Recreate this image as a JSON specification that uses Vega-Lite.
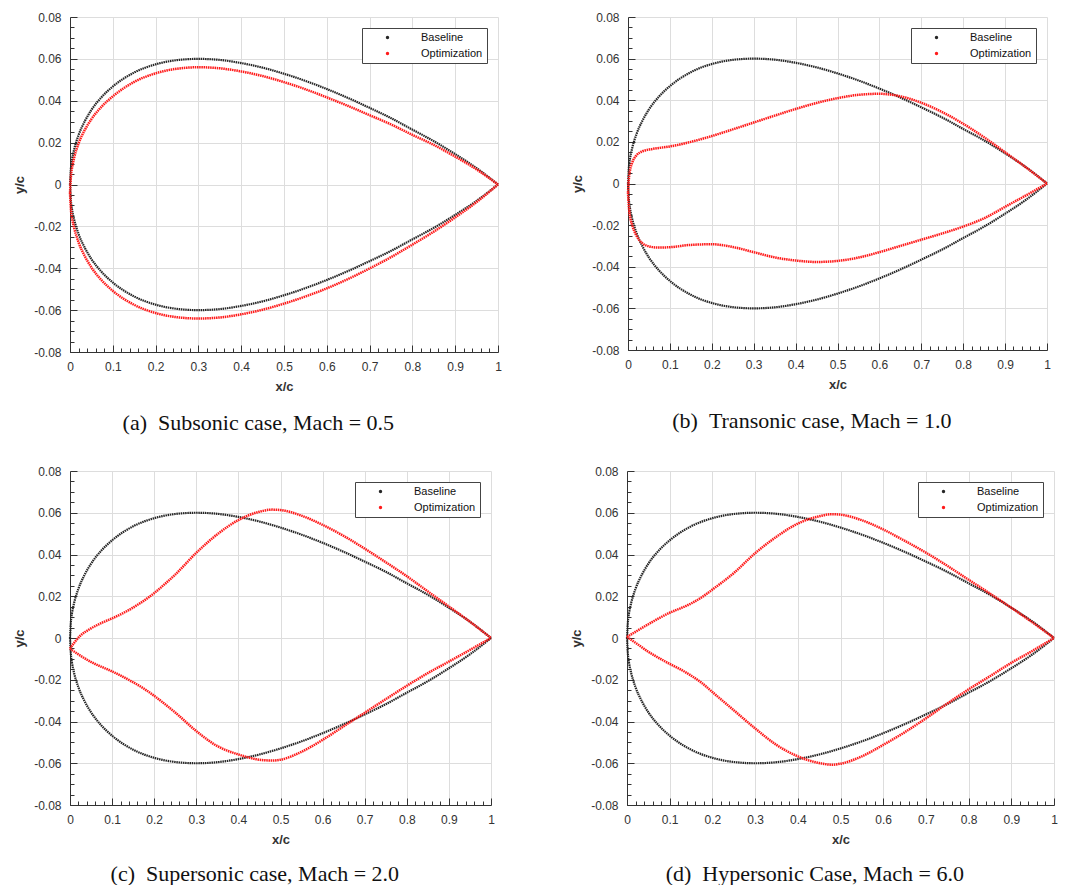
{
"$schema": "https://vega.github.io/schema/vega-lite/v6.json",
"padding": {"left": 13, "top": 11, "right": 5, "bottom": 0},
"background": "white",
"config": {
  "view": {"stroke": null},
  "axis": {"domainColor": "#333333", "domainWidth": 1, "tickColor": "#333333", "tickWidth": 1, "gridColor": "#dddddd", "gridWidth": 1,
    "labelFont": "Liberation Sans", "labelFontSize": 12, "labelColor": "#333333",
    "titleFont": "Liberation Sans", "titleFontSize": 13, "titleFontWeight": "bold", "titleColor": "#333333"},
  "legend": {"orient": "top-right", "offset": 11, "strokeColor": "#444444", "fillColor": "white", "padding": 4, "rowPadding": 4,
    "labelFont": "Liberation Sans", "labelFontSize": 11, "labelColor": "#111111", "symbolType": "circle", "symbolSize": 3,
    "symbolStrokeWidth": 1.6, "cornerRadius": 0},
  "title": {"orient": "bottom", "font": "Liberation Serif", "fontSize": 22, "fontWeight": "normal", "color": "#111111", "offset": 20, "frame": "bounds", "anchor": "middle"}
},
"datasets": {
"base": [
{"s":"u","x":0,"y":0},{"s":"u","x":0.0025,"y":0.0087},{"s":"u","x":0.005,"y":0.0122},{"s":"u","x":0.01,"y":0.017},{"s":"u","x":0.02,"y":0.0236},{"s":"u","x":0.035,"y":0.0304},{"s":"u","x":0.05,"y":0.0356},{"s":"u","x":0.075,"y":0.042},{"s":"u","x":0.1,"y":0.0468},{"s":"u","x":0.15,"y":0.0535},{"s":"u","x":0.2,"y":0.0574},{"s":"u","x":0.25,"y":0.0594},{"s":"u","x":0.3,"y":0.06},{"s":"u","x":0.35,"y":0.0595},{"s":"u","x":0.4,"y":0.058},{"s":"u","x":0.45,"y":0.0558},{"s":"u","x":0.5,"y":0.0529},{"s":"u","x":0.55,"y":0.0495},{"s":"u","x":0.6,"y":0.0456},{"s":"u","x":0.65,"y":0.0413},{"s":"u","x":0.7,"y":0.0366},{"s":"u","x":0.75,"y":0.0317},{"s":"u","x":0.8,"y":0.0262},{"s":"u","x":0.85,"y":0.0207},{"s":"u","x":0.9,"y":0.0145},{"s":"u","x":0.95,"y":0.0078},{"s":"u","x":1,"y":0},
{"s":"l","x":0,"y":0},{"s":"l","x":0.0025,"y":-0.0087},{"s":"l","x":0.005,"y":-0.0122},{"s":"l","x":0.01,"y":-0.017},{"s":"l","x":0.02,"y":-0.0236},{"s":"l","x":0.035,"y":-0.0304},{"s":"l","x":0.05,"y":-0.0356},{"s":"l","x":0.075,"y":-0.042},{"s":"l","x":0.1,"y":-0.0468},{"s":"l","x":0.15,"y":-0.0535},{"s":"l","x":0.2,"y":-0.0574},{"s":"l","x":0.25,"y":-0.0594},{"s":"l","x":0.3,"y":-0.06},{"s":"l","x":0.35,"y":-0.0595},{"s":"l","x":0.4,"y":-0.058},{"s":"l","x":0.45,"y":-0.0558},{"s":"l","x":0.5,"y":-0.0529},{"s":"l","x":0.55,"y":-0.0495},{"s":"l","x":0.6,"y":-0.0456},{"s":"l","x":0.65,"y":-0.0413},{"s":"l","x":0.7,"y":-0.0366},{"s":"l","x":0.75,"y":-0.0317},{"s":"l","x":0.8,"y":-0.0262},{"s":"l","x":0.85,"y":-0.0207},{"s":"l","x":0.9,"y":-0.0145},{"s":"l","x":0.95,"y":-0.0078},{"s":"l","x":1,"y":0}
],
"optA": [
{"s":"u","x":0,"y":-0.004},{"s":"u","x":0.0025,"y":0.0047},{"s":"u","x":0.005,"y":0.0082},{"s":"u","x":0.01,"y":0.013},{"s":"u","x":0.02,"y":0.0196},{"s":"u","x":0.035,"y":0.0262},{"s":"u","x":0.05,"y":0.0312},{"s":"u","x":0.075,"y":0.0374},{"s":"u","x":0.1,"y":0.0421},{"s":"u","x":0.15,"y":0.049},{"s":"u","x":0.2,"y":0.0531},{"s":"u","x":0.25,"y":0.0553},{"s":"u","x":0.3,"y":0.056},{"s":"u","x":0.35,"y":0.0555},{"s":"u","x":0.4,"y":0.054},{"s":"u","x":0.45,"y":0.0518},{"s":"u","x":0.5,"y":0.0489},{"s":"u","x":0.55,"y":0.0455},{"s":"u","x":0.6,"y":0.0416},{"s":"u","x":0.65,"y":0.0375},{"s":"u","x":0.7,"y":0.0331},{"s":"u","x":0.75,"y":0.0287},{"s":"u","x":0.8,"y":0.0237},{"s":"u","x":0.85,"y":0.0189},{"s":"u","x":0.9,"y":0.0133},{"s":"u","x":0.95,"y":0.0072},{"s":"u","x":1,"y":0},
{"s":"l","x":0,"y":-0.004},{"s":"l","x":0.0025,"y":-0.0127},{"s":"l","x":0.005,"y":-0.0162},{"s":"l","x":0.01,"y":-0.021},{"s":"l","x":0.02,"y":-0.0276},{"s":"l","x":0.035,"y":-0.0344},{"s":"l","x":0.05,"y":-0.0396},{"s":"l","x":0.075,"y":-0.046},{"s":"l","x":0.1,"y":-0.0508},{"s":"l","x":0.15,"y":-0.0575},{"s":"l","x":0.2,"y":-0.0614},{"s":"l","x":0.25,"y":-0.0634},{"s":"l","x":0.3,"y":-0.064},{"s":"l","x":0.35,"y":-0.0635},{"s":"l","x":0.4,"y":-0.062},{"s":"l","x":0.45,"y":-0.0598},{"s":"l","x":0.5,"y":-0.0569},{"s":"l","x":0.55,"y":-0.0535},{"s":"l","x":0.6,"y":-0.0496},{"s":"l","x":0.65,"y":-0.0451},{"s":"l","x":0.7,"y":-0.0401},{"s":"l","x":0.75,"y":-0.0347},{"s":"l","x":0.8,"y":-0.0287},{"s":"l","x":0.85,"y":-0.0225},{"s":"l","x":0.9,"y":-0.0157},{"s":"l","x":0.95,"y":-0.0084},{"s":"l","x":1,"y":0}
],
"optB": [
{"s":"u","x":0,"y":-0.0044},{"s":"u","x":0.002,"y":0.002},{"s":"u","x":0.005,"y":0.0065},{"s":"u","x":0.01,"y":0.01},{"s":"u","x":0.02,"y":0.0135},{"s":"u","x":0.035,"y":0.0155},{"s":"u","x":0.05,"y":0.0163},{"s":"u","x":0.075,"y":0.0171},{"s":"u","x":0.1,"y":0.0178},{"s":"u","x":0.15,"y":0.02},{"s":"u","x":0.2,"y":0.0228},{"s":"u","x":0.25,"y":0.026},{"s":"u","x":0.3,"y":0.0293},{"s":"u","x":0.35,"y":0.0326},{"s":"u","x":0.4,"y":0.0358},{"s":"u","x":0.45,"y":0.0387},{"s":"u","x":0.5,"y":0.041},{"s":"u","x":0.55,"y":0.0426},{"s":"u","x":0.6,"y":0.0431},{"s":"u","x":0.65,"y":0.0419},{"s":"u","x":0.7,"y":0.0388},{"s":"u","x":0.75,"y":0.0343},{"s":"u","x":0.8,"y":0.0287},{"s":"u","x":0.85,"y":0.0222},{"s":"u","x":0.9,"y":0.015},{"s":"u","x":0.95,"y":0.0077},{"s":"u","x":1,"y":0},
{"s":"l","x":0,"y":-0.0044},{"s":"l","x":0.002,"y":-0.011},{"s":"l","x":0.005,"y":-0.016},{"s":"l","x":0.01,"y":-0.02},{"s":"l","x":0.02,"y":-0.025},{"s":"l","x":0.035,"y":-0.0288},{"s":"l","x":0.05,"y":-0.0302},{"s":"l","x":0.075,"y":-0.0308},{"s":"l","x":0.1,"y":-0.0306},{"s":"l","x":0.15,"y":-0.0295},{"s":"l","x":0.2,"y":-0.0292},{"s":"l","x":0.25,"y":-0.0305},{"s":"l","x":0.3,"y":-0.033},{"s":"l","x":0.35,"y":-0.0355},{"s":"l","x":0.4,"y":-0.037},{"s":"l","x":0.45,"y":-0.0377},{"s":"l","x":0.5,"y":-0.0372},{"s":"l","x":0.55,"y":-0.0356},{"s":"l","x":0.6,"y":-0.033},{"s":"l","x":0.65,"y":-0.03},{"s":"l","x":0.7,"y":-0.027},{"s":"l","x":0.75,"y":-0.024},{"s":"l","x":0.8,"y":-0.0207},{"s":"l","x":0.85,"y":-0.0167},{"s":"l","x":0.9,"y":-0.0112},{"s":"l","x":0.95,"y":-0.0057},{"s":"l","x":1,"y":0}
],
"optC": [
{"s":"u","x":0,"y":-0.0051},{"s":"u","x":0.025,"y":0.0012},{"s":"u","x":0.05,"y":0.0046},{"s":"u","x":0.075,"y":0.0072},{"s":"u","x":0.1,"y":0.0094},{"s":"u","x":0.125,"y":0.0118},{"s":"u","x":0.15,"y":0.0146},{"s":"u","x":0.175,"y":0.0178},{"s":"u","x":0.2,"y":0.0215},{"s":"u","x":0.225,"y":0.0258},{"s":"u","x":0.25,"y":0.0304},{"s":"u","x":0.3,"y":0.0408},{"s":"u","x":0.35,"y":0.0497},{"s":"u","x":0.4,"y":0.0565},{"s":"u","x":0.45,"y":0.0605},{"s":"u","x":0.48,"y":0.0615},{"s":"u","x":0.5,"y":0.0613},{"s":"u","x":0.55,"y":0.0586},{"s":"u","x":0.6,"y":0.0542},{"s":"u","x":0.65,"y":0.0489},{"s":"u","x":0.7,"y":0.0428},{"s":"u","x":0.75,"y":0.0363},{"s":"u","x":0.8,"y":0.0296},{"s":"u","x":0.85,"y":0.0223},{"s":"u","x":0.9,"y":0.0151},{"s":"u","x":0.95,"y":0.0078},{"s":"u","x":1,"y":0},
{"s":"l","x":0,"y":-0.0051},{"s":"l","x":0.025,"y":-0.0085},{"s":"l","x":0.05,"y":-0.0115},{"s":"l","x":0.075,"y":-0.0138},{"s":"l","x":0.1,"y":-0.016},{"s":"l","x":0.125,"y":-0.0185},{"s":"l","x":0.15,"y":-0.0212},{"s":"l","x":0.175,"y":-0.0242},{"s":"l","x":0.2,"y":-0.0277},{"s":"l","x":0.225,"y":-0.0316},{"s":"l","x":0.25,"y":-0.0357},{"s":"l","x":0.3,"y":-0.0446},{"s":"l","x":0.35,"y":-0.0518},{"s":"l","x":0.4,"y":-0.0558},{"s":"l","x":0.45,"y":-0.0583},{"s":"l","x":0.48,"y":-0.0587},{"s":"l","x":0.5,"y":-0.0583},{"s":"l","x":0.55,"y":-0.0545},{"s":"l","x":0.6,"y":-0.0488},{"s":"l","x":0.65,"y":-0.0423},{"s":"l","x":0.7,"y":-0.0358},{"s":"l","x":0.75,"y":-0.0293},{"s":"l","x":0.8,"y":-0.0229},{"s":"l","x":0.85,"y":-0.0168},{"s":"l","x":0.9,"y":-0.0113},{"s":"l","x":0.95,"y":-0.0057},{"s":"l","x":1,"y":0}
],
"optD": [
{"s":"u","x":0,"y":0.0005},{"s":"u","x":0.025,"y":0.0036},{"s":"u","x":0.05,"y":0.0066},{"s":"u","x":0.075,"y":0.0095},{"s":"u","x":0.1,"y":0.0121},{"s":"u","x":0.125,"y":0.0142},{"s":"u","x":0.15,"y":0.0165},{"s":"u","x":0.175,"y":0.0195},{"s":"u","x":0.2,"y":0.0232},{"s":"u","x":0.25,"y":0.0311},{"s":"u","x":0.3,"y":0.0406},{"s":"u","x":0.35,"y":0.0485},{"s":"u","x":0.4,"y":0.0548},{"s":"u","x":0.45,"y":0.0583},{"s":"u","x":0.48,"y":0.0593},{"s":"u","x":0.5,"y":0.0591},{"s":"u","x":0.55,"y":0.0564},{"s":"u","x":0.6,"y":0.052},{"s":"u","x":0.65,"y":0.0466},{"s":"u","x":0.7,"y":0.0409},{"s":"u","x":0.75,"y":0.0346},{"s":"u","x":0.8,"y":0.0279},{"s":"u","x":0.85,"y":0.0213},{"s":"u","x":0.9,"y":0.0145},{"s":"u","x":0.95,"y":0.0074},{"s":"u","x":1,"y":0},
{"s":"l","x":0,"y":0.0005},{"s":"l","x":0.025,"y":-0.003},{"s":"l","x":0.05,"y":-0.0066},{"s":"l","x":0.075,"y":-0.0096},{"s":"l","x":0.1,"y":-0.0124},{"s":"l","x":0.125,"y":-0.015},{"s":"l","x":0.15,"y":-0.018},{"s":"l","x":0.175,"y":-0.0215},{"s":"l","x":0.2,"y":-0.0259},{"s":"l","x":0.25,"y":-0.0346},{"s":"l","x":0.3,"y":-0.0433},{"s":"l","x":0.35,"y":-0.0512},{"s":"l","x":0.4,"y":-0.0567},{"s":"l","x":0.45,"y":-0.0599},{"s":"l","x":0.48,"y":-0.0607},{"s":"l","x":0.5,"y":-0.0602},{"s":"l","x":0.55,"y":-0.0567},{"s":"l","x":0.6,"y":-0.0512},{"s":"l","x":0.65,"y":-0.0452},{"s":"l","x":0.7,"y":-0.0385},{"s":"l","x":0.75,"y":-0.0314},{"s":"l","x":0.8,"y":-0.0246},{"s":"l","x":0.85,"y":-0.0183},{"s":"l","x":0.9,"y":-0.0119},{"s":"l","x":0.95,"y":-0.0061},{"s":"l","x":1,"y":0}
]
},
"spacing": 31,
"resolve": {"scale": {"color": "independent"}},
"vconcat": [
{"hconcat": [
 {"width": 428, "height": 335,
  "title": {"text": "(a)\u2002Subsonic case, Mach = 0.5"},
  "encoding": {
   "x": {"field": "x", "type": "quantitative", "scale": {"domain": [0, 1], "nice": false, "zero": false},
     "axis": {"title": "x/c", "values": [0,0.02,0.04,0.06,0.08,0.1,0.12,0.14,0.16,0.18,0.2,0.22,0.24,0.26,0.28,0.3,0.32,0.34,0.36,0.38,0.4,0.42,0.44,0.46,0.48,0.5,0.52,0.54,0.56,0.58,0.6,0.62,0.64,0.66,0.68,0.7,0.72,0.74,0.76,0.78,0.8,0.82,0.84,0.86,0.88,0.9,0.92,0.94,0.96,0.98,1],
       "labelExpr": "abs(datum.value*10-round(datum.value*10))<0.001 ? format(datum.value,'~g') : ''",
       "tickSize": {"condition": {"test": "abs(datum.value*10-round(datum.value*10))<0.001", "value": -7}, "value": -4},
       "gridOpacity": {"condition": {"test": "abs(datum.value*10-round(datum.value*10))<0.001", "value": 1}, "value": 0},
       "labelFlush": false, "labelOverlap": false, "labelPadding": 16, "titlePadding": 5}},
   "y": {"field": "y", "type": "quantitative", "scale": {"domain": [-0.08, 0.08], "nice": false, "zero": false},
     "axis": {"title": "y/c", "values": [-0.08,-0.075,-0.07,-0.065,-0.06,-0.055,-0.05,-0.045,-0.04,-0.035,-0.03,-0.025,-0.02,-0.015,-0.01,-0.005,0,0.005,0.01,0.015,0.02,0.025,0.03,0.035,0.04,0.045,0.05,0.055,0.06,0.065,0.07,0.075,0.08],
       "labelExpr": "abs(datum.value*50-round(datum.value*50))<0.001 ? (datum.value<0 ? '-' : '') + format(abs(datum.value),'~g') : ''",
       "tickSize": {"condition": {"test": "abs(datum.value*50-round(datum.value*50))<0.001", "value": -7}, "value": -4},
       "gridOpacity": {"condition": {"test": "abs(datum.value*50-round(datum.value*50))<0.001", "value": 1}, "value": 0},
       "labelFlush": false, "labelOverlap": false, "labelPadding": 16, "titlePadding": 7}}
  },
  "layer": [
   {"data": {"name": "base"}, "mark": {"type": "line", "interpolate": "monotone", "strokeWidth": 2.2, "strokeDash": [1.5, 0.7]},
    "encoding": {"detail": {"field": "s", "type": "nominal"}, "order": {"field": "x", "type": "quantitative"},
     "color": {"datum": "Baseline", "type": "nominal", "scale": {"domain": ["Baseline", "Optimization"], "range": ["#262626", "#ff1a1a"]}, "legend": {"title": null, "symbolOffset": 16, "labelOffset": 28, "labelExpr": "datum.label + '\u00a0\u00a0\u00a0\u00a0\u00a0'"}}}},
   {"data": {"name": "optA"}, "mark": {"type": "line", "interpolate": "monotone", "strokeWidth": 2.5, "strokeDash": [1.5, 0.7]},
    "encoding": {"detail": {"field": "s", "type": "nominal"}, "order": {"field": "x", "type": "quantitative"},
     "color": {"datum": "Optimization", "type": "nominal", "scale": {"domain": ["Baseline", "Optimization"], "range": ["#262626", "#ff1a1a"]}, "legend": {"title": null, "symbolOffset": 16, "labelOffset": 28, "labelExpr": "datum.label + '\u00a0\u00a0\u00a0\u00a0\u00a0'"}}}}
  ]},
 {"width": 419, "height": 333,
  "title": {"text": "(b)\u2002Transonic case, Mach = 1.0"},
  "encoding": {
   "x": {"field": "x", "type": "quantitative", "scale": {"domain": [0, 1], "nice": false, "zero": false},
     "axis": {"title": "x/c", "values": [0,0.02,0.04,0.06,0.08,0.1,0.12,0.14,0.16,0.18,0.2,0.22,0.24,0.26,0.28,0.3,0.32,0.34,0.36,0.38,0.4,0.42,0.44,0.46,0.48,0.5,0.52,0.54,0.56,0.58,0.6,0.62,0.64,0.66,0.68,0.7,0.72,0.74,0.76,0.78,0.8,0.82,0.84,0.86,0.88,0.9,0.92,0.94,0.96,0.98,1],
       "labelExpr": "abs(datum.value*10-round(datum.value*10))<0.001 ? format(datum.value,'~g') : ''",
       "tickSize": {"condition": {"test": "abs(datum.value*10-round(datum.value*10))<0.001", "value": -7}, "value": -4},
       "gridOpacity": {"condition": {"test": "abs(datum.value*10-round(datum.value*10))<0.001", "value": 1}, "value": 0},
       "labelFlush": false, "labelOverlap": false, "labelPadding": 16, "titlePadding": 5}},
   "y": {"field": "y", "type": "quantitative", "scale": {"domain": [-0.08, 0.08], "nice": false, "zero": false},
     "axis": {"title": "y/c", "values": [-0.08,-0.075,-0.07,-0.065,-0.06,-0.055,-0.05,-0.045,-0.04,-0.035,-0.03,-0.025,-0.02,-0.015,-0.01,-0.005,0,0.005,0.01,0.015,0.02,0.025,0.03,0.035,0.04,0.045,0.05,0.055,0.06,0.065,0.07,0.075,0.08],
       "labelExpr": "abs(datum.value*50-round(datum.value*50))<0.001 ? (datum.value<0 ? '-' : '') + format(abs(datum.value),'~g') : ''",
       "tickSize": {"condition": {"test": "abs(datum.value*50-round(datum.value*50))<0.001", "value": -7}, "value": -4},
       "gridOpacity": {"condition": {"test": "abs(datum.value*50-round(datum.value*50))<0.001", "value": 1}, "value": 0},
       "labelFlush": false, "labelOverlap": false, "labelPadding": 16, "titlePadding": 7}}
  },
  "layer": [
   {"data": {"name": "base"}, "mark": {"type": "line", "interpolate": "monotone", "strokeWidth": 2.2, "strokeDash": [1.5, 0.7]},
    "encoding": {"detail": {"field": "s", "type": "nominal"}, "order": {"field": "x", "type": "quantitative"},
     "color": {"datum": "Baseline", "type": "nominal", "scale": {"domain": ["Baseline", "Optimization"], "range": ["#262626", "#ff1a1a"]}, "legend": {"title": null, "symbolOffset": 16, "labelOffset": 28, "labelExpr": "datum.label + '\u00a0\u00a0\u00a0\u00a0\u00a0'"}}}},
   {"data": {"name": "optB"}, "mark": {"type": "line", "interpolate": "monotone", "strokeWidth": 2.5, "strokeDash": [1.5, 0.7]},
    "encoding": {"detail": {"field": "s", "type": "nominal"}, "order": {"field": "x", "type": "quantitative"},
     "color": {"datum": "Optimization", "type": "nominal", "scale": {"domain": ["Baseline", "Optimization"], "range": ["#262626", "#ff1a1a"]}, "legend": {"title": null, "symbolOffset": 16, "labelOffset": 28, "labelExpr": "datum.label + '\u00a0\u00a0\u00a0\u00a0\u00a0'"}}}}
  ]}
 ],
 "bounds": "flush", "spacing": 130, "resolve": {"scale": {"color": "independent"}}},
{"hconcat": [
 {"width": 421, "height": 334,
  "title": {"text": "(c)\u2002Supersonic case, Mach = 2.0", "offset": 18},
  "encoding": {
   "x": {"field": "x", "type": "quantitative", "scale": {"domain": [0, 1], "nice": false, "zero": false},
     "axis": {"title": "x/c", "values": [0,0.02,0.04,0.06,0.08,0.1,0.12,0.14,0.16,0.18,0.2,0.22,0.24,0.26,0.28,0.3,0.32,0.34,0.36,0.38,0.4,0.42,0.44,0.46,0.48,0.5,0.52,0.54,0.56,0.58,0.6,0.62,0.64,0.66,0.68,0.7,0.72,0.74,0.76,0.78,0.8,0.82,0.84,0.86,0.88,0.9,0.92,0.94,0.96,0.98,1],
       "labelExpr": "abs(datum.value*10-round(datum.value*10))<0.001 ? format(datum.value,'~g') : ''",
       "tickSize": {"condition": {"test": "abs(datum.value*10-round(datum.value*10))<0.001", "value": -7}, "value": -4},
       "gridOpacity": {"condition": {"test": "abs(datum.value*10-round(datum.value*10))<0.001", "value": 1}, "value": 0},
       "labelFlush": false, "labelOverlap": false, "labelPadding": 16, "titlePadding": 5}},
   "y": {"field": "y", "type": "quantitative", "scale": {"domain": [-0.08, 0.08], "nice": false, "zero": false},
     "axis": {"title": "y/c", "values": [-0.08,-0.075,-0.07,-0.065,-0.06,-0.055,-0.05,-0.045,-0.04,-0.035,-0.03,-0.025,-0.02,-0.015,-0.01,-0.005,0,0.005,0.01,0.015,0.02,0.025,0.03,0.035,0.04,0.045,0.05,0.055,0.06,0.065,0.07,0.075,0.08],
       "labelExpr": "abs(datum.value*50-round(datum.value*50))<0.001 ? (datum.value<0 ? '-' : '') + format(abs(datum.value),'~g') : ''",
       "tickSize": {"condition": {"test": "abs(datum.value*50-round(datum.value*50))<0.001", "value": -7}, "value": -4},
       "gridOpacity": {"condition": {"test": "abs(datum.value*50-round(datum.value*50))<0.001", "value": 1}, "value": 0},
       "labelFlush": false, "labelOverlap": false, "labelPadding": 16, "titlePadding": 7}}
  },
  "layer": [
   {"data": {"name": "base"}, "mark": {"type": "line", "interpolate": "monotone", "strokeWidth": 2.2, "strokeDash": [1.5, 0.7]},
    "encoding": {"detail": {"field": "s", "type": "nominal"}, "order": {"field": "x", "type": "quantitative"},
     "color": {"datum": "Baseline", "type": "nominal", "scale": {"domain": ["Baseline", "Optimization"], "range": ["#262626", "#ff1a1a"]}, "legend": {"title": null, "symbolOffset": 16, "labelOffset": 28, "labelExpr": "datum.label + '\u00a0\u00a0\u00a0\u00a0\u00a0'"}}}},
   {"data": {"name": "optC"}, "mark": {"type": "line", "interpolate": "monotone", "strokeWidth": 2.5, "strokeDash": [1.5, 0.7]},
    "encoding": {"detail": {"field": "s", "type": "nominal"}, "order": {"field": "x", "type": "quantitative"},
     "color": {"datum": "Optimization", "type": "nominal", "scale": {"domain": ["Baseline", "Optimization"], "range": ["#262626", "#ff1a1a"]}, "legend": {"title": null, "symbolOffset": 16, "labelOffset": 28, "labelExpr": "datum.label + '\u00a0\u00a0\u00a0\u00a0\u00a0'"}}}}
  ]},
 {"width": 427, "height": 334,
  "title": {"text": "(d)\u2002Hypersonic Case, Mach = 6.0", "offset": 18},
  "encoding": {
   "x": {"field": "x", "type": "quantitative", "scale": {"domain": [0, 1], "nice": false, "zero": false},
     "axis": {"title": "x/c", "values": [0,0.02,0.04,0.06,0.08,0.1,0.12,0.14,0.16,0.18,0.2,0.22,0.24,0.26,0.28,0.3,0.32,0.34,0.36,0.38,0.4,0.42,0.44,0.46,0.48,0.5,0.52,0.54,0.56,0.58,0.6,0.62,0.64,0.66,0.68,0.7,0.72,0.74,0.76,0.78,0.8,0.82,0.84,0.86,0.88,0.9,0.92,0.94,0.96,0.98,1],
       "labelExpr": "abs(datum.value*10-round(datum.value*10))<0.001 ? format(datum.value,'~g') : ''",
       "tickSize": {"condition": {"test": "abs(datum.value*10-round(datum.value*10))<0.001", "value": -7}, "value": -4},
       "gridOpacity": {"condition": {"test": "abs(datum.value*10-round(datum.value*10))<0.001", "value": 1}, "value": 0},
       "labelFlush": false, "labelOverlap": false, "labelPadding": 16, "titlePadding": 5}},
   "y": {"field": "y", "type": "quantitative", "scale": {"domain": [-0.08, 0.08], "nice": false, "zero": false},
     "axis": {"title": "y/c", "values": [-0.08,-0.075,-0.07,-0.065,-0.06,-0.055,-0.05,-0.045,-0.04,-0.035,-0.03,-0.025,-0.02,-0.015,-0.01,-0.005,0,0.005,0.01,0.015,0.02,0.025,0.03,0.035,0.04,0.045,0.05,0.055,0.06,0.065,0.07,0.075,0.08],
       "labelExpr": "abs(datum.value*50-round(datum.value*50))<0.001 ? (datum.value<0 ? '-' : '') + format(abs(datum.value),'~g') : ''",
       "tickSize": {"condition": {"test": "abs(datum.value*50-round(datum.value*50))<0.001", "value": -7}, "value": -4},
       "gridOpacity": {"condition": {"test": "abs(datum.value*50-round(datum.value*50))<0.001", "value": 1}, "value": 0},
       "labelFlush": false, "labelOverlap": false, "labelPadding": 16, "titlePadding": 7}}
  },
  "layer": [
   {"data": {"name": "base"}, "mark": {"type": "line", "interpolate": "monotone", "strokeWidth": 2.2, "strokeDash": [1.5, 0.7]},
    "encoding": {"detail": {"field": "s", "type": "nominal"}, "order": {"field": "x", "type": "quantitative"},
     "color": {"datum": "Baseline", "type": "nominal", "scale": {"domain": ["Baseline", "Optimization"], "range": ["#262626", "#ff1a1a"]}, "legend": {"title": null, "symbolOffset": 16, "labelOffset": 28, "labelExpr": "datum.label + '\u00a0\u00a0\u00a0\u00a0\u00a0'"}}}},
   {"data": {"name": "optD"}, "mark": {"type": "line", "interpolate": "monotone", "strokeWidth": 2.5, "strokeDash": [1.5, 0.7]},
    "encoding": {"detail": {"field": "s", "type": "nominal"}, "order": {"field": "x", "type": "quantitative"},
     "color": {"datum": "Optimization", "type": "nominal", "scale": {"domain": ["Baseline", "Optimization"], "range": ["#262626", "#ff1a1a"]}, "legend": {"title": null, "symbolOffset": 16, "labelOffset": 28, "labelExpr": "datum.label + '\u00a0\u00a0\u00a0\u00a0\u00a0'"}}}}
  ]}
 ],
 "bounds": "flush", "spacing": 136, "resolve": {"scale": {"color": "independent"}}}
]
}
